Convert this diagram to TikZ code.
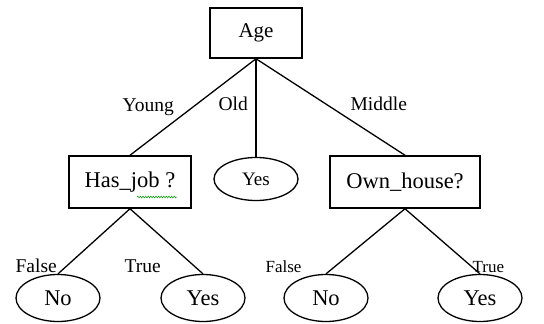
\documentclass[tikz,border=0pt]{standalone}
\usepackage{fontspec}
\setmainfont{Liberation Serif}
\usetikzlibrary{shapes.geometric,decorations.pathmorphing}

\begin{document}
\begin{tikzpicture}[x=1pt, y=-1pt, line width=1.3pt,
  attr/.style  = {draw, rectangle, line width=1.5pt, inner sep=0pt,
                  minimum height=52pt, font=\fontsize{22.5}{22.5}\selectfont},
  leaf/.style  = {draw, ellipse, inner sep=0pt, minimum width=84pt,
                  minimum height=47pt, font=\fontsize{22.5}{22.5}\selectfont},
  label/.style = {anchor=base west, inner sep=0pt, font=\fontsize{19.5}{19.5}\selectfont},
  small/.style = {label, font=\fontsize{17}{17}\selectfont}]
  \useasboundingbox (0,0) rectangle (544,324);
  \tikzset{every node/.style={text centered}}
  % tree nodes
  \node [attr, minimum width=92pt, minimum height=50pt,
         font=\fontsize{21}{21}\selectfont]             (age)      at (256,33)  {Age};
  \node [attr, minimum width=122pt]                     (hasjob)   at (130,182) {Has\_job ?};
  \node [attr, minimum width=150pt]                     (ownhouse) at (405,182) {Own\_house?};
  \node [leaf, minimum height=43pt, font=\fontsize{19}{19}\selectfont]
                                                        (oldyes)   at (256,179) {Yes};
  \node [leaf] (jobno)    at (58,298)  {No};
  \node [leaf] (jobyes)   at (203,298) {Yes};
  \node [leaf] (houseno)  at (326,298) {No};
  \node [leaf] (houseyes) at (480,298) {Yes};
  % edges
  \foreach \a/\b in {age/hasjob, age/oldyes, age/ownhouse,
                     hasjob/jobno, hasjob/jobyes, ownhouse/houseno, ownhouse/houseyes}
    \draw (\a.south) -- (\b.north);
  % edge labels
  \node [label] (young)  at (122,111) {Young};
  \node [label] (old)    at (218,110) {Old};
  \node [label] (middle) at (350,110) {Middle};
  \node [label] (jobf)   at (15,272)  {False};
  \node [label] (jobt)   at (124,272) {True};
  \node [small] (housef) at (265,272) {False};
  \node [small] (houset) at (472,272) {True};
  % spell check squiggle
  \coordinate (sqa) at (137,197);
  \coordinate (sqb) at (177,197);
  \draw [green!60!black, line width=0.5pt,
         decorate, decoration={snake, amplitude=0.9pt, segment length=2.6pt}] (sqa) -- (sqb);
\end{tikzpicture}
\end{document}
